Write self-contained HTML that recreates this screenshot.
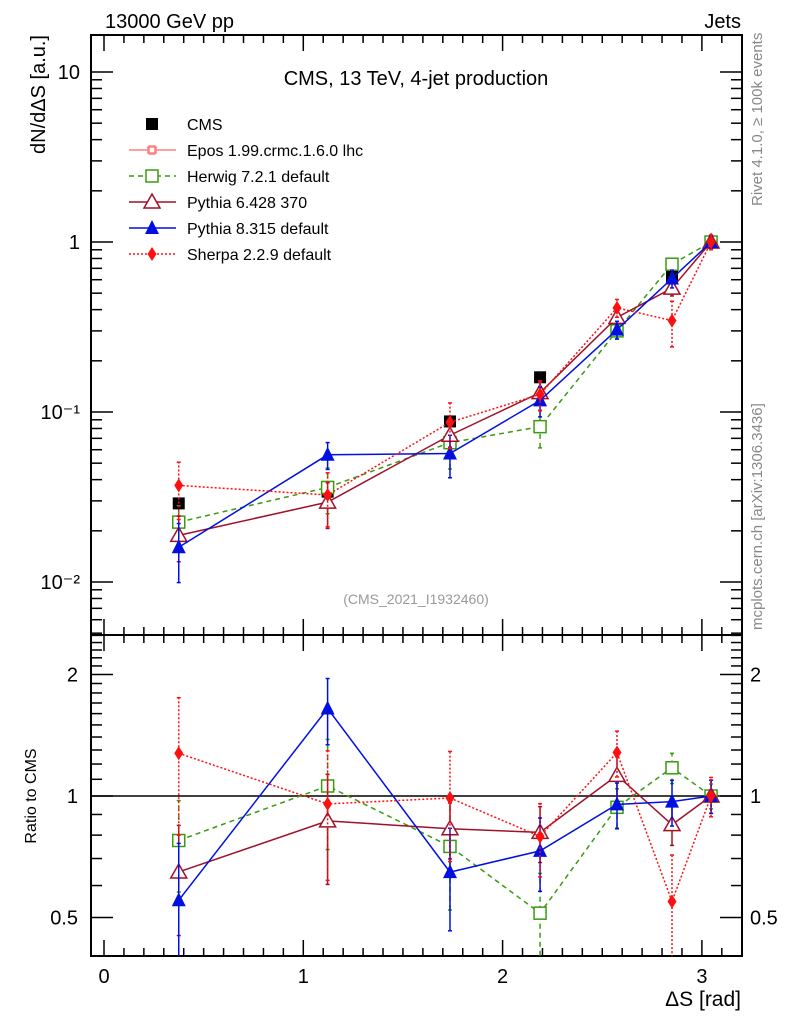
<!DOCTYPE html>
<html><head><meta charset="utf-8"><style>
html,body{margin:0;background:#fff;overflow:hidden;width:786px;height:1024px;}
svg{display:block;font-family:"Liberation Sans",sans-serif;}
</style></head><body>
<svg id="chart" width="786" height="1024" viewBox="0 0 786 1024" xmlns="http://www.w3.org/2000/svg">
<text x="105" y="28" font-size="20">13000 GeV pp</text>
<text x="741" y="28" font-size="20" text-anchor="end">Jets</text>
<text transform="translate(762,206) rotate(-90)" font-size="15" fill="#888">Rivet 4.1.0, ≥ 100k events</text>
<text transform="translate(762,630) rotate(-90)" font-size="15" fill="#888">mcplots.cern.ch [arXiv:1306.3436]</text>
<text x="416" y="85" font-size="20" text-anchor="middle">CMS, 13 TeV, 4-jet production</text>
<text x="416" y="604" font-size="14" fill="#999" text-anchor="middle">(CMS_2021_I1932460)</text>
<text transform="translate(45,35) rotate(-90)" font-size="20" text-anchor="end">dN/dΔS [a.u.]</text>
<text transform="translate(36,796) rotate(-90)" font-size="16" text-anchor="middle">Ratio to CMS</text>
<text x="741" y="1006" font-size="21" text-anchor="end">ΔS [rad]</text>
<g id="g"></g>
</svg>
<script>
const xs=[0.375,1.122,1.736,2.188,2.574,2.85,3.046];
const cms=[0.029,0.034,0.088,0.16,0.32,0.63,1.0];
const cmsErr=[0.05,0.05,0.05,0.05,0.05,0.05,0.05];
const herwig=[0.0225,0.036,0.066,0.082,0.30,0.74,1.0];
const herwigErr=[0.25,0.3,0.3,0.25,0.1,0.07,0.05];
const py6=[0.0188,0.0295,0.073,0.13,0.36,0.535,1.0];
const py6Err=[0.3,0.3,0.15,0.15,0.1,0.1,0.08];
const py8=[0.016,0.056,0.057,0.117,0.305,0.61,1.0];
const py8Err=[0.38,0.18,0.28,0.2,0.12,0.12,0.08];
const sherpa=[0.037,0.0325,0.087,0.127,0.41,0.345,1.0];
const sherpaErr=[0.37,0.35,0.3,0.2,0.12,0.3,0.1];
const xTicks=[0,1,2,3];
const yTicks=[10,1,0.1,0.01];
const yTickLabels=['10','1','10⁻¹','10⁻²'];
const rTicks=[0.5,1,2];

const NS='http://www.w3.org/2000/svg';
const g=document.getElementById('g');
const L=91,R=742,T=35,M=635,B=956;
const X=v=>104+v*199.3;
const Y=v=>242-Math.log10(v)*170;
const RY=v=>796-Math.log2(v)*121.5;
function el(t,a,p){const e=document.createElementNS(NS,t);for(const k in a)e.setAttribute(k,a[k]);(p||g).appendChild(e);return e;}
const clipT=el('clipPath',{id:'ct'});el('rect',{x:L,y:T,width:R-L,height:M-T},clipT);
const clipB=el('clipPath',{id:'cb'});el('rect',{x:L,y:M,width:R-L,height:B-M},clipB);

const f1=el('rect',{x:L,y:T,width:R-L,height:M-T,fill:'none',stroke:'#000','stroke-width':2});


const f2=el('rect',{x:L,y:M,width:R-L,height:B-M,fill:'none',stroke:'#000','stroke-width':2});



for(let i=0;i<=32;i++){const v=i/10;const x=X(v);const len=(i%10===0)?16:8;
 [[T,1],[M,-1],[M,1],[B,-1]].forEach(([y,d])=>el('line',{x1:x,x2:x,y1:y,y2:y+d*len,stroke:'#000','stroke-width':1.5}));}
xTicks.forEach(v=>{const t=el('text',{x:X(v),y:983,'font-size':20,'text-anchor':'middle'});t.textContent=v;
 
 });
for(let e=-3;e<=1;e++)for(let m=1;m<=9;m++){const v=m*Math.pow(10,e);const y=Y(v);if(y<T||y>M)continue;const len=m===1?22:11;
 el('line',{x1:L,x2:L+len,y1:y,y2:y,stroke:'#000','stroke-width':1.5});el('line',{x1:R,x2:R-len,y1:y,y2:y,stroke:'#000','stroke-width':1.5});}
yTicks.forEach((v,i)=>{const t=el('text',{x:80,y:Y(v)+7,'font-size':20,'text-anchor':'end'});t.textContent=yTickLabels[i];
 
 });
for(let v=0.4;v<=2.55;v+=0.1){const y=RY(v);if(y<M||y>B)continue;const maj=rTicks.some(r=>Math.abs(r-v)<1e-6);const len=maj?22:11;
 el('line',{x1:L,x2:L+len,y1:y,y2:y,stroke:'#000','stroke-width':1.5});el('line',{x1:R,x2:R-len,y1:y,y2:y,stroke:'#000','stroke-width':1.5});}
rTicks.forEach(v=>{const t=el('text',{x:78,y:RY(v)+7,'font-size':20,'text-anchor':'end'});t.textContent=v;
 
 
 const t2=el('text',{x:750,y:RY(v)+7,'font-size':20});t2.textContent=v;
 
 });
el('line',{x1:L,x2:R,y1:RY(1),y2:RY(1),stroke:'#000','stroke-width':1.5});

function marker(p,type,x,y,c){
 if(type==='sq')el('rect',{x:x-6,y:y-6,width:12,height:12,fill:c},p);
 else if(type==='osq')el('rect',{x:x-6,y:y-6,width:12,height:12,fill:'#fff',stroke:c,'stroke-width':1.5},p);
 else if(type==='otri')el('polygon',{points:`${x},${y-8} ${x-8},${y+6} ${x+8},${y+6}`,fill:'#fff',stroke:c,'stroke-width':1.5},p);
 else if(type==='tri')el('polygon',{points:`${x},${y-8} ${x-7},${y+6} ${x+7},${y+6}`,fill:c},p);
 else if(type==='dia')el('polygon',{points:`${x},${y-7} ${x-4.5},${y} ${x},${y+7} ${x+4.5},${y}`,fill:c},p);
}
function series(name,vals,errs,color,dash,type,line,ratio){
 const panels=[['top',vals,Y,'ct',errs]];
 if(ratio)panels.push(['ratio',vals.map((v,i)=>v/cms[i]),RY,'cb',errs.map((e,i)=>Math.sqrt(e*e+cmsErr[i]*cmsErr[i]))]);
 panels.forEach(([pn,vv,fy,cl,ee])=>{
  const grp=el('g',{'clip-path':`url(#${cl})`});
  
  
  if(line){el('polyline',{points:xs.map((x,i)=>X(x)+','+fy(vv[i])).join(' '),fill:'none',stroke:color,'stroke-width':1.5,'stroke-dasharray':dash},grp);}
  xs.forEach((x,i)=>{const lo=vv[i]*(1-Math.min(ee[i],0.95)),hi=vv[i]*(1+ee[i]);
   el('line',{x1:X(x),x2:X(x),y1:fy(lo),y2:fy(hi),stroke:color,'stroke-width':1.5,'stroke-dasharray':dash},grp);
   el('line',{x1:X(x)-2,x2:X(x)+2,y1:fy(lo),y2:fy(lo),stroke:color,'stroke-width':1.5},grp);
   el('line',{x1:X(x)-2,x2:X(x)+2,y1:fy(hi),y2:fy(hi),stroke:color,'stroke-width':1.5},grp);
   marker(grp,type,X(x),fy(vv[i]),color);});
 });
}
series('cms',cms,cmsErr,'#000','none','sq',false,false);
series('herwig',herwig,herwigErr,'#3a9a10','5,4','osq',true,true);
series('pythia6',py6,py6Err,'#a0102a','none','otri',true,true);
series('pythia8',py8,py8Err,'#0010e0','none','tri',true,true);
series('sherpa',sherpa,sherpaErr,'#ff1010','2,2','dia',true,true);

const leg=[['CMS','#000','none','sq',false],['Epos 1.99.crmc.1.6.0 lhc','#ff8080','none','cross',true],['Herwig 7.2.1 default','#3a9a10','5,4','osq',true],['Pythia 6.428 370','#a0102a','none','otri',true],['Pythia 8.315 default','#0010e0','none','tri',true],['Sherpa 2.2.9 default','#ff1010','2,2','dia',true]];
leg.forEach((l,i)=>{const y=124+i*26;const lg=el('g',{});
 
 
 if(l[4])el('line',{x1:129,x2:176,y1:y,y2:y,stroke:l[1],'stroke-width':1.5,'stroke-dasharray':l[2]},lg);
 if(l[3]==='cross'){el('rect',{x:149,y:y-4,width:6,height:8,fill:'#fff',stroke:l[1],'stroke-width':1.5},lg);el('rect',{x:148,y:y-3,width:8,height:6,fill:'none',stroke:l[1],'stroke-width':1.5},lg);}
 else marker(lg,l[3],152,y,l[1]);
 const t=el('text',{x:187,y:y+6,'font-size':16},lg);t.textContent=l[0];});
</script>
</body></html>
